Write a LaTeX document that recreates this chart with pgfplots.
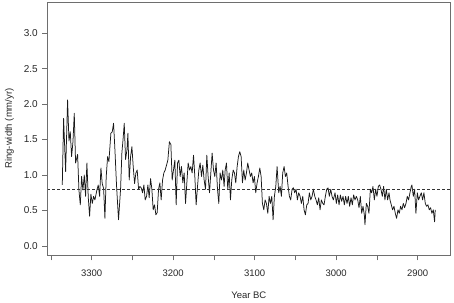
\documentclass[border=0pt]{standalone}
\usepackage{fontspec}
\setmainfont{Liberation Sans}
\usepackage{pgfplots}
\pgfplotsset{compat=1.18}
\usetikzlibrary{calc}

\pgfplotstableread{
year rw
3336.0 0.86
3334.4 1.80
3331.9 1.05
3329.5 2.06
3327.8 1.48
3326.2 1.61
3324.6 1.26
3322.9 1.47
3321.3 1.87
3319.7 1.17
3317.2 1.29
3315.6 0.79
3313.9 0.58
3312.3 0.98
3310.7 0.79
3309.0 1.00
3307.4 0.70
3305.8 1.17
3304.1 0.68
3302.5 0.42
3300.9 0.73
3299.2 0.60
3297.6 0.70
3296.0 0.65
3293.5 0.79
3291.9 0.86
3290.2 0.70
3288.6 1.10
3287.0 0.88
3285.3 0.81
3283.7 0.39
3282.1 0.98
3280.4 1.26
3278.8 1.19
3276.4 1.59
3274.7 1.61
3273.1 1.73
3271.4 1.35
3269.4 0.84
3267.0 0.37
3264.5 0.80
3262.9 1.31
3261.2 1.54
3260.0 1.73
3258.4 1.22
3256.7 1.35
3255.5 1.59
3253.9 0.93
3252.2 1.26
3250.6 1.40
3249.0 1.12
3247.3 0.88
3245.7 1.03
3244.1 1.07
3242.4 0.80
3240.8 0.84
3239.2 0.82
3237.5 0.75
3235.9 0.86
3234.3 0.65
3232.6 0.70
3231.0 0.86
3229.4 0.68
3227.7 0.95
3226.1 0.80
3224.5 0.51
3222.8 0.58
3221.2 0.44
3219.6 0.47
3217.9 0.80
3216.3 0.89
3214.7 0.65
3213.0 0.93
3211.4 1.03
3209.8 1.07
3208.1 1.14
3206.5 1.21
3204.6 1.47
3202.8 1.43
3201.2 0.93
3199.6 1.07
3197.9 1.21
3196.3 0.58
3194.6 1.17
3193.0 1.21
3191.4 0.98
3189.8 1.12
3188.1 0.89
3186.5 1.03
3184.8 0.60
3183.2 0.89
3181.6 1.17
3179.9 1.07
3178.3 1.12
3176.7 1.03
3175.0 1.28
3173.4 0.98
3171.8 0.58
3170.1 0.84
3168.5 1.07
3166.9 1.17
3165.2 0.98
3163.6 1.14
3162.0 0.93
3160.3 0.80
3158.7 1.28
3157.1 0.98
3155.4 0.75
3153.8 1.03
3152.2 1.31
3150.5 1.07
3148.9 0.98
3147.3 1.17
3145.6 0.80
3144.0 0.60
3142.4 1.03
3140.7 0.93
3139.1 1.07
3137.5 0.84
3136.2 1.07
3134.6 1.17
3133.0 0.80
3131.3 1.03
3129.7 0.65
3128.1 0.93
3126.4 1.07
3124.8 1.03
3123.2 0.89
3121.5 1.12
3119.9 1.26
3118.3 1.33
3116.6 1.26
3115.0 0.89
3113.4 1.07
3111.7 0.93
3110.1 1.03
3108.5 1.17
3106.8 1.07
3105.2 0.98
3103.6 1.03
3101.9 0.89
3100.3 0.98
3098.7 0.75
3097.0 0.89
3095.4 0.98
3093.7 1.10
3092.1 0.98
3090.5 0.60
3088.8 0.51
3087.2 0.65
3085.6 0.60
3083.9 0.46
3082.3 0.70
3080.7 0.60
3079.0 0.70
3077.4 0.37
3075.8 0.70
3074.1 0.84
3072.5 1.12
3070.5 0.75
3068.8 0.84
3067.2 0.70
3065.6 1.03
3063.9 1.12
3062.3 0.98
3060.7 1.03
3059.0 0.84
3057.4 0.70
3055.8 0.65
3054.1 0.80
3052.5 0.82
3050.9 0.75
3049.2 0.80
3047.6 0.65
3046.0 0.75
3044.3 0.70
3042.7 0.60
3041.0 0.70
3039.4 0.51
3037.8 0.44
3036.1 0.58
3034.5 0.60
3032.9 0.75
3031.2 0.65
3029.6 0.70
3028.0 0.80
3026.3 0.70
3024.7 0.65
3023.1 0.58
3021.4 0.68
3019.8 0.51
3018.2 0.65
3016.5 0.60
3014.9 0.58
3013.3 0.70
3011.6 0.80
3010.0 0.82
3008.4 0.70
3006.7 0.80
3005.1 0.70
3003.5 0.65
3001.4 0.75
2999.8 0.60
2998.2 0.72
2996.5 0.58
2994.9 0.72
2993.3 0.63
2991.6 0.70
2990.0 0.58
2988.4 0.70
2986.7 0.60
2985.1 0.70
2983.5 0.56
2981.8 0.68
2980.2 0.58
2978.6 0.72
2976.9 0.65
2975.3 0.70
2973.6 0.65
2972.0 0.54
2970.4 0.70
2968.7 0.46
2967.1 0.56
2965.5 0.44
2964.7 0.30
2963.0 0.60
2961.4 0.56
2959.8 0.46
2958.1 0.80
2956.5 0.75
2954.9 0.84
2953.2 0.65
2951.6 0.80
2950.0 0.70
2948.3 0.84
2946.7 0.86
2945.1 0.80
2943.4 0.70
2941.8 0.84
2940.2 0.65
2938.5 0.80
2936.9 0.65
2935.2 0.75
2934.0 0.65
2932.4 0.58
2930.8 0.51
2929.1 0.56
2927.5 0.46
2925.9 0.39
2924.2 0.51
2922.6 0.46
2921.0 0.56
2919.3 0.51
2917.7 0.60
2916.1 0.54
2914.4 0.60
2912.8 0.70
2911.2 0.65
2909.5 0.75
2907.9 0.84
2907.1 0.86
2905.4 0.70
2903.8 0.80
2902.2 0.46
2900.5 0.75
2898.9 0.65
2897.3 0.70
2895.6 0.75
2894.0 0.65
2892.4 0.75
2890.7 0.60
2889.1 0.56
2887.5 0.58
2885.8 0.51
2884.2 0.54
2882.6 0.46
2880.9 0.51
2879.3 0.34
2878.5 0.51
}\ringdata

\definecolor{framegray}{RGB}{110,110,110}
\definecolor{labgray}{RGB}{40,40,40}

\begin{document}
\begin{tikzpicture}
\begin{axis}[
    name=ax,
    scale only axis,
    width=402.3pt, height=253pt,
    x dir=reverse,
    xmin=2860.4, xmax=3353.9,
    ymin=-0.127, ymax=3.44,
    axis line style={framegray, line width=0.6pt},
    tick style={framegray, line width=0.6pt},
    tick align=outside,
    major tick length=5.5pt, minor tick length=5.5pt,
    xtick={2900,3000,3100,3200,3300},
    minor xtick={2950,3050,3150,3250,3350},
    ytick={0,0.5,1,1.5,2,2.5,3},
    xtick pos=bottom, ytick pos=left,
    /pgf/number format/assume math mode=true,
    xticklabel style={/pgf/number format/1000 sep={}, font=\fontsize{9.5}{11}\selectfont, text=labgray, yshift=-6pt},
    yticklabel style={/pgf/number format/fixed, /pgf/number format/fixed zerofill, /pgf/number format/precision=1, font=\fontsize{10}{12}\selectfont, text=labgray, xshift=-1pt},
    xlabel={Year BC},
    ylabel={Ring-width (mm/yr)},
    label style={font=\fontsize{9.5}{11}\selectfont, text=labgray},
    xlabel style={yshift=-8pt},
    ylabel style={yshift=3pt},
]
\addplot[black!90, line width=0.75pt, line join=round, no markers] table[x=year, y=rw] {\ringdata};
\addplot[black!80, line width=0.5pt, dash pattern=on 3pt off 2pt, no markers] coordinates {(2860.4,0.8) (3353.9,0.8)};
\end{axis}
\pgfresetboundingbox
\path[use as bounding box] ($(ax.south west)+(-47.7pt,-48pt)$) rectangle ($(ax.north east)+(4pt,2pt)$);
\end{tikzpicture}
\end{document}
